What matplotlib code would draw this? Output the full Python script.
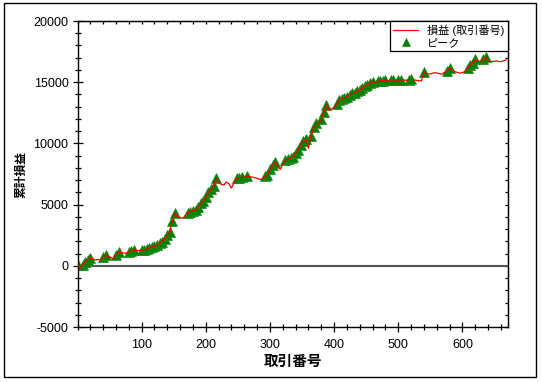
import numpy as np
import matplotlib
matplotlib.use("Agg")
import matplotlib.pyplot as plt
from matplotlib.patches import Rectangle
from matplotlib.ticker import MultipleLocator

# ---- data ----
trade_no = list(range(0, 669, 4))
cum_pnl = [
    100, -200, 100, 340, 500, 640, 560, 470, 520, 470,
    750, 880, 720, 690, 530, 900, 1150, 1080, 1050, 1020,
    1150, 1200, 1290, 1220, 1260, 1290, 1300, 1400, 1480, 1560,
    1600, 1700, 1850, 1970, 2200, 2500, 2800, 3700, 4340, 4010,
    3950, 3880, 4100, 4350, 4420, 4500, 4560, 4800, 5100, 5300,
    5600, 6000, 6250, 6500, 7150, 6800, 6650, 6600, 6850, 6700,
    6350, 6800, 7150, 7200, 7250, 7220, 7300, 7280, 7250, 7200,
    7150, 7050, 7100, 7300, 7420, 7900, 8200, 8500, 8100, 7880,
    8300, 8640, 8700, 8800, 8910, 9200, 9500, 9870, 10200, 10330,
    9600, 10600, 11300, 11640, 11600, 12000, 12590, 13140, 12730, 12800,
    12950, 13200, 13550, 13650, 13750, 13820, 13950, 14090, 14100, 14250,
    14360, 14500, 14700, 14770, 14900, 15040, 15000, 15080, 15120, 15120,
    15150, 15100, 15180, 15180, 15150, 15180, 15200, 15180, 15150, 15200,
    15240, 15200, 15150, 15120, 15100, 15860, 15700, 15670, 15700, 15780,
    15750, 15700, 15670, 15800, 15950, 16140, 16000, 15860, 15800, 15730,
    15800, 15860, 16200, 16400, 16600, 16870, 16750, 16680, 16900, 17040,
    16800, 16680, 16700, 16730, 16700, 16680, 16750, 16810,
]
x_ticks = [100, 200, 300, 400, 500, 600]
y_ticks = [-5000, 0, 5000, 10000, 15000, 20000]
line_label = "損益 (取引番号)"
peak_label = "ピーク"
x_label = "取引番号"
y_label = "累計損益"

x = np.array(trade_no)
y = np.array(cum_pnl)
is_peak = y >= np.maximum.accumulate(y)

plt.rcParams['font.family'] = ['Liberation Sans', 'Noto Sans CJK JP', 'DejaVu Sans']
plt.rcParams['axes.unicode_minus'] = False

fig = plt.figure(figsize=(5.42, 3.82), dpi=100)
fig.patches.append(Rectangle((4 / 542, 1 - 377 / 382), 532 / 542, 374 / 382,
                             transform=fig.transFigure, fill=False,
                             edgecolor='black', linewidth=1.0))
ax = fig.add_axes([77.5 / 542, 1 - 327 / 382, (508 - 77.5) / 542, (327 - 21) / 382])

ax.axhline(0, color='#555555', linewidth=1.5, zorder=1)
ax.plot(x[is_peak], y[is_peak], linestyle='none', marker='^', markersize=6.5,
        color='#008000', markeredgecolor='#1a8a1a', markeredgewidth=0.5,
        label=peak_label, zorder=2)
ax.plot(x, y, color='#ff0000', linewidth=0.9, label=line_label, zorder=3)

ax.set_xlim(0, 671)
ax.set_ylim(-5000, 20000)
ax.set_xticks(x_ticks)
ax.set_yticks(y_ticks)
ax.xaxis.set_minor_locator(MultipleLocator(20))
ax.yaxis.set_minor_locator(MultipleLocator(1000))
ax.tick_params(which='major', direction='inout', length=7, width=0.9,
               labelsize=9, colors='black', pad=3)
ax.tick_params(which='minor', direction='inout', length=5, width=0.9)
ax.tick_params(axis='x', which='major', pad=5)

top = ax.secondary_xaxis('top')
top.xaxis.set_major_locator(MultipleLocator(20))
top.tick_params(which='major', direction='in', length=2.5, width=0.9, labeltop=False)
top.tick_params(which='minor', length=0)
right = ax.secondary_yaxis('right')
right.yaxis.set_major_locator(MultipleLocator(1000))
right.tick_params(which='major', direction='in', length=2.5, width=0.9, labelright=False)
right.tick_params(which='minor', length=0)

for s in ax.spines.values():
    s.set_linewidth(1.0)

ax.set_xlabel(x_label, fontsize=10.5, fontweight='bold', labelpad=3)
ax.set_ylabel(y_label, fontsize=8.5, fontweight='bold', labelpad=4)

handles, labels = ax.get_legend_handles_labels()
leg = ax.legend(handles[::-1], labels[::-1], loc='upper right',
                bbox_to_anchor=(1, 1), borderaxespad=0, fontsize=8,
                fancybox=False, framealpha=1, edgecolor='black',
                handlelength=2.3, handletextpad=0.8, labelspacing=0.2,
                borderpad=0.3, markerscale=0.8)
leg.get_frame().set_linewidth(0.9)

fig.savefig('out.png', dpi=100)
